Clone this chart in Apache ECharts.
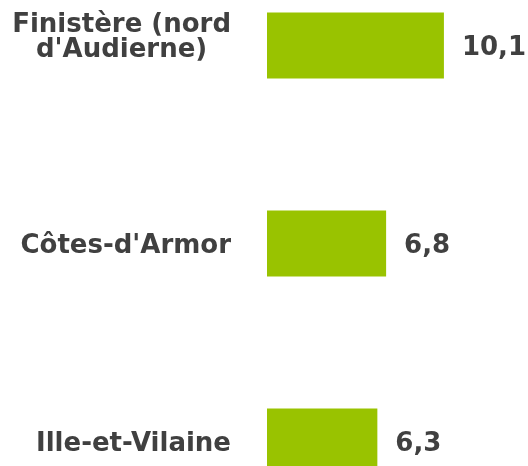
<!DOCTYPE html>
<html>
<head>
<meta charset="utf-8">
<script src="https://cdn.jsdelivr.net/npm/echarts@6/dist/echarts.min.js"></script>
<style>
  html, body { margin: 0; padding: 0; background: #ffffff; }
  #chart { width: 528px; height: 466px; }
</style>
</head>
<body>
<div id="chart"></div>
<script>
// Départements, top to bottom
const categories = ["Finistère (nord\nd'Audierne)", "Côtes-d'Armor", "Ille-et-Vilaine"];
const values = [10.1, 6.8, 6.3];

const chart = echarts.init(document.getElementById('chart'));
const textFont = { fontFamily: 'DejaVu Sans', fontWeight: 'bold', fontSize: 26, color: '#404040' };

chart.setOption({
  animation: false,
  grid: {
    left: 267, right: 0, top: -53.5, bottom: -74.5,
    containLabel: false, outerBoundsMode: 'none'
  },
  xAxis: {
    type: 'value', min: 0, max: 14.9,
    show: false
  },
  yAxis: {
    type: 'category',
    inverse: true,
    data: categories,
    axisLine: { show: false },
    axisTick: { show: false },
    axisLabel: Object.assign({
      margin: 36, align: 'right',
      padding: [5, 0, 0, 0],
      // each line is centred inside the right-aligned block
      formatter: v => {
        const lines = v.split('\n').map(s => '{a|' + s + '}');
        if (lines.length > 1) lines.push('{e| }');
        return lines.join('\n');
      },
      rich: {
        a: Object.assign({ align: 'center', lineHeight: 25 }, textFont),
        e: { fontSize: 10, lineHeight: 20 }
      }
    }, textFont)
  },
  series: [{
    type: 'bar',
    data: values,
    barWidth: 66,
    itemStyle: { color: '#99C300' },
    label: Object.assign({
      show: true, position: 'right', distance: 18,
      offset: [0, 3],
      formatter: p => String(p.value).replace('.', ',')
    }, textFont)
  }]
});
</script>
</body>
</html>
